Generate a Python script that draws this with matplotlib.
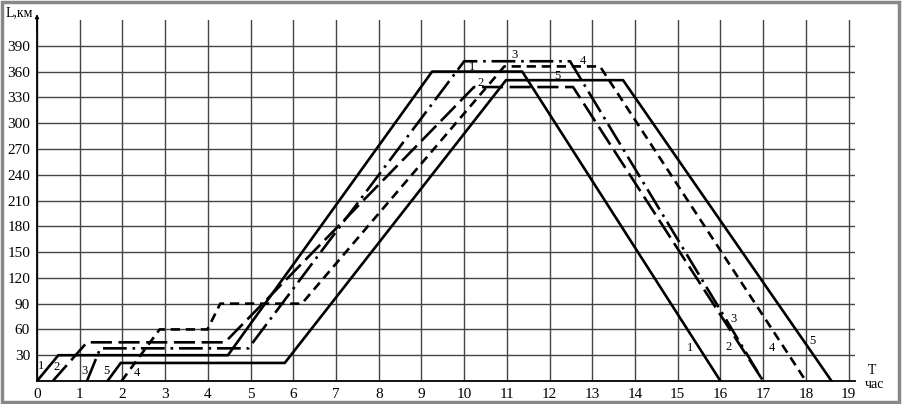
import matplotlib.pyplot as plt
from matplotlib.patches import Rectangle

# route data: time (h) vs distance (km), one pair per route
t1 = [0, 0.5, 4.47, 9.25, 11.36, 16]
L1 = [0, 30, 30, 360, 360, 0]
t2 = [0.37, 1.17, 4.4, 10.23, 12.55, 17]
L2 = [0, 45, 45, 342, 342, 0]
t3 = [1.17, 1.48, 4.95, 10.0, 12.48, 17]
L3 = [0, 38, 38, 372, 372, 0]
t4 = [1.98, 2.87, 3.99, 4.29, 6.2, 10.94, 13.18, 18]
L4 = [0, 60, 60, 90, 90, 366, 366, 0]
t5 = [1.65, 1.96, 5.8, 10.98, 13.72, 18.6]
L5 = [0, 21, 21, 350, 350, 0]

xticks = list(range(0, 20))
yticks = list(range(30, 391, 30))

# labels near start, top and end of each route
lab_start = [("1", 0.09, 18), ("2", 0.46, 16), ("3", 1.12, 12), ("5", 1.62, 12), ("4", 2.33, 9)]
lab_top = [("3", 11.17, 379), ("1", 10.18, 365), ("2", 10.39, 347), ("4", 12.79, 372), ("5", 12.19, 355)]
lab_end = [("1", 15.3, 38), ("2", 16.2, 40), ("3", 16.3, 72), ("4", 17.2, 38), ("5", 18.15, 46)]

plt.rcParams['font.family'] = ['Liberation Serif', 'DejaVu Serif']

fig = plt.figure(figsize=(9.02, 4.04), dpi=100)
ax = fig.add_axes([37/902, 23/404, 818/902, 361/404])

lw = 1.9
ax.plot(t1, L1, color='black', lw=lw, ls='-')
ax.plot(t2, L2, color='black', lw=lw, ls=(0, (8, 2.5)))
ax.plot(t3, L3, color='black', lw=lw, ls=(0, (9, 2.2, 1, 2.2)))
ax.plot(t4, L4, color='black', lw=lw, ls=(0, (3.5, 2.2)))
ax.plot(t5, L5, color='black', lw=lw, ls='-')

for lst in (lab_start, lab_top, lab_end):
    for s, x, y in lst:
        ax.text(x, y, s, fontsize=9, ha='center', va='center')

ax.set_xlim(0, 19.15)
ax.set_ylim(0, 420)
ax.set_xticks(xticks)
ax.set_yticks(yticks)
ax.tick_params(length=0, labelsize=11, pad=5)
ax.grid(True, color='#444444', lw=1.0)
ax.set_axisbelow(True)
for sp in ('top', 'right'):
    ax.spines[sp].set_visible(False)
ax.spines['left'].set_linewidth(1.3)
ax.spines['bottom'].set_linewidth(1.3)

ax.annotate('', xy=(0, 430), xytext=(0, 405), xycoords='data',
            arrowprops=dict(arrowstyle='-|>', color='black', lw=0.8, mutation_scale=6),
            annotation_clip=False)
ax.text(-0.1, 428, 'L,км', fontsize=10, ha='right', va='center', clip_on=False)
ax.text(19.55, 12, 'T', fontsize=10, ha='center', va='center', clip_on=False)
ax.text(19.6, -4, 'час', fontsize=10, ha='center', va='center', clip_on=False)

fig.patches.append(Rectangle((0.002, 0.004), 0.995, 0.99, transform=fig.transFigure,
                             fill=False, ec='#888888', lw=2.5))

fig.savefig('out.png', dpi=100)
